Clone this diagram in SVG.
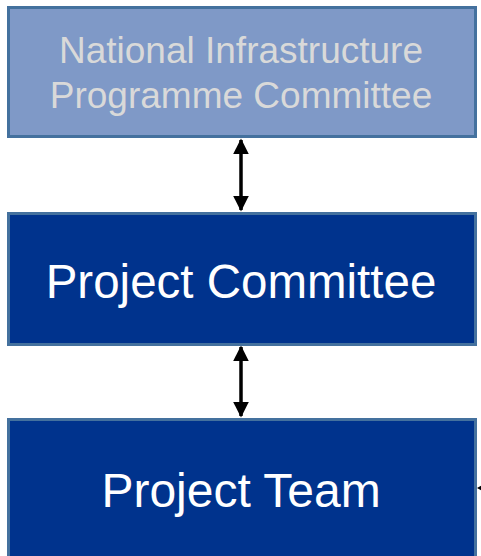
<svg xmlns="http://www.w3.org/2000/svg" width="481" height="556" viewBox="0 0 481 556">
<style>
.box{stroke:#44719e;stroke-width:3}
.light{fill:#7f99c7}
.dark{fill:#00338d}
.t{font-family:"Liberation Sans",Arial,sans-serif;text-anchor:middle}
.conn{stroke:#000;stroke-width:3.5;fill:none}
</style>
<defs>
<marker id="ah" viewBox="0 0 10 10" refX="9" refY="5" markerWidth="4.5" markerHeight="5" orient="auto-start-reverse" markerUnits="strokeWidth">
<path d="M0,0 L10,5 L0,10 z" fill="#000"/>
</marker>
</defs>
<rect width="481" height="556" fill="#fff"/>
<g id="connectors">
<line class="conn" x1="241" y1="140" x2="241" y2="210" marker-start="url(#ah)" marker-end="url(#ah)"/>
<line class="conn" x1="241" y1="347" x2="241" y2="416" marker-start="url(#ah)" marker-end="url(#ah)"/>
<path d="M477,488 L486,483 L486,493 z" fill="#000"/>
</g>
<g id="nipc">
<rect class="box light" x="8.5" y="7.5" width="467" height="129"/>
<text class="t" x="241" y="63" font-size="37" fill="#d9d9d9">National Infrastructure</text>
<text class="t" x="241" y="108" font-size="37" fill="#d9d9d9">Programme Committee</text>
</g>
<g id="project-committee">
<rect class="box dark" x="8.5" y="213.5" width="467" height="131"/>
<text class="t" x="241" y="298" font-size="47.5" fill="#fff">Project Committee</text>
</g>
<g id="project-team">
<rect class="box dark" x="8.5" y="419.5" width="467" height="145"/>
<text class="t" x="241" y="507" font-size="48" fill="#fff">Project Team</text>
</g>
</svg>
